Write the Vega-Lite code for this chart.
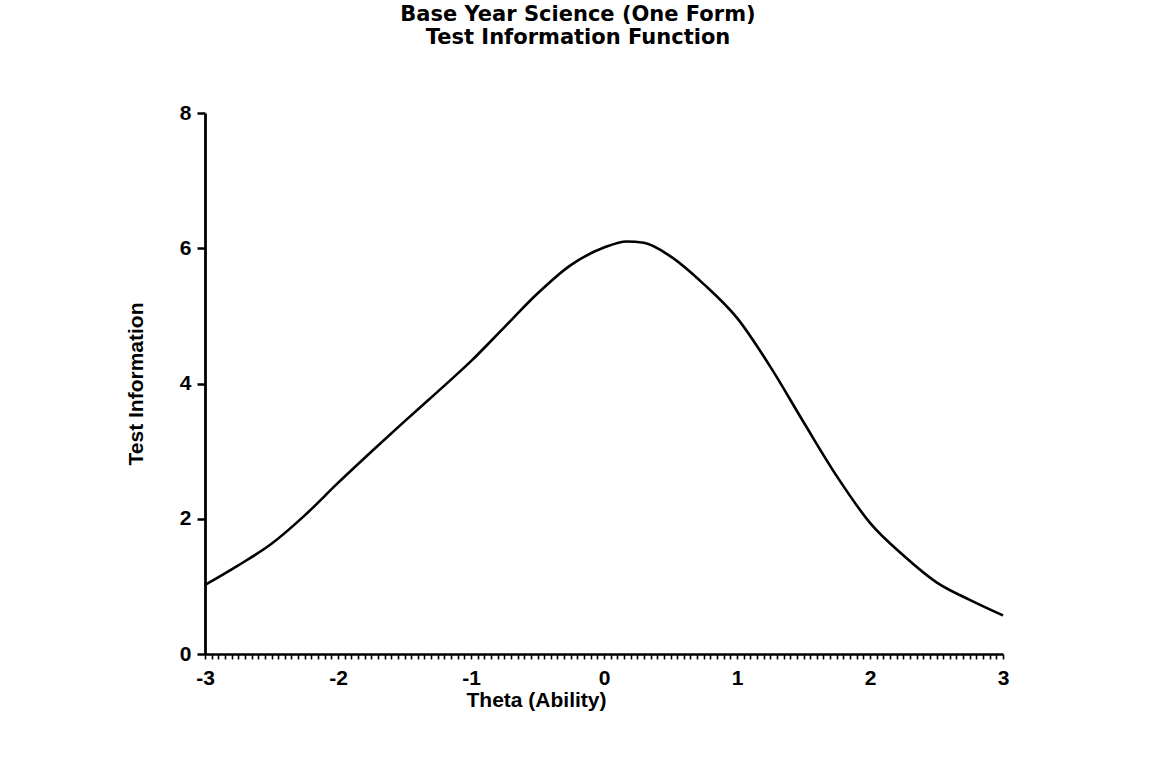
{
  "$schema": "https://vega.github.io/schema/vega-lite/v6.json",
  "autosize": "none",
  "width": 798,
  "height": 541,
  "padding": {"left": 205, "top": 113, "right": 150, "bottom": 108},
  "background": "white",
  "title": {
    "text": ["Base Year Science (One Form)", "Test Information Function"],
    "font": "DejaVu Sans",
    "fontWeight": "bold",
    "fontSize": 21,
    "lineHeight": 23,
    "color": "black",
    "anchor": "middle",
    "dx": -26,
    "offset": 54
  },
  "data": {
    "values": [
      {"theta": -3.0, "info": 1.02},
      {"theta": -2.75, "info": 1.31},
      {"theta": -2.5, "info": 1.63},
      {"theta": -2.25, "info": 2.05},
      {"theta": -2.0, "info": 2.53},
      {"theta": -1.75, "info": 2.99},
      {"theta": -1.5, "info": 3.44},
      {"theta": -1.25, "info": 3.88},
      {"theta": -1.0, "info": 4.33},
      {"theta": -0.75, "info": 4.83},
      {"theta": -0.5, "info": 5.33},
      {"theta": -0.25, "info": 5.75},
      {"theta": 0.0, "info": 6.01},
      {"theta": 0.17, "info": 6.1},
      {"theta": 0.3, "info": 6.08},
      {"theta": 0.5, "info": 5.88},
      {"theta": 0.75, "info": 5.47},
      {"theta": 1.0, "info": 4.97},
      {"theta": 1.25, "info": 4.25},
      {"theta": 1.5, "info": 3.43},
      {"theta": 1.75, "info": 2.63},
      {"theta": 2.0, "info": 1.94},
      {"theta": 2.25, "info": 1.46},
      {"theta": 2.5, "info": 1.06},
      {"theta": 2.75, "info": 0.8},
      {"theta": 3.0, "info": 0.57}
    ]
  },
  "mark": {"type": "line", "color": "black", "strokeWidth": 2.6, "interpolate": "monotone"},
  "encoding": {
    "x": {
      "field": "theta",
      "type": "quantitative",
      "scale": {"domain": [-3, 3], "nice": false, "zero": false},
      "axis": {
        "title": "Theta (Ability)",
        "values": [-3, -2.95, -2.9, -2.85, -2.8, -2.75, -2.7, -2.65, -2.6, -2.55, -2.5, -2.45, -2.4, -2.35, -2.3, -2.25, -2.2, -2.15, -2.1, -2.05, -2, -1.95, -1.9, -1.85, -1.8, -1.75, -1.7, -1.65, -1.6, -1.55, -1.5, -1.45, -1.4, -1.35, -1.3, -1.25, -1.2, -1.15, -1.1, -1.05, -1, -0.95, -0.9, -0.85, -0.8, -0.75, -0.7, -0.65, -0.6, -0.55, -0.5, -0.45, -0.4, -0.35, -0.3, -0.25, -0.2, -0.15, -0.1, -0.05, 0, 0.05, 0.1, 0.15, 0.2, 0.25, 0.3, 0.35, 0.4, 0.45, 0.5, 0.55, 0.6, 0.65, 0.7, 0.75, 0.8, 0.85, 0.9, 0.95, 1, 1.05, 1.1, 1.15, 1.2, 1.25, 1.3, 1.35, 1.4, 1.45, 1.5, 1.55, 1.6, 1.65, 1.7, 1.75, 1.8, 1.85, 1.9, 1.95, 2, 2.05, 2.1, 2.15, 2.2, 2.25, 2.3, 2.35, 2.4, 2.45, 2.5, 2.55, 2.6, 2.65, 2.7, 2.75, 2.8, 2.85, 2.9, 2.95, 3],
        "labelExpr": "abs(datum.value - round(datum.value)) < 0.001 ? '' + round(datum.value) : ''",
        "labelOverlap": false,
        "labelFlush": false,
        "grid": false,
        "tickSize": 5,
        "tickWidth": 1.6,
        "tickColor": "black",
        "domainColor": "black",
        "domainWidth": 2.5,
        "labelFont": "Liberation Sans",
        "labelFontWeight": "bold",
        "labelFontSize": 21,
        "labelColor": "black",
        "labelPadding": 8,
        "titleFont": "Liberation Sans",
        "titleFontWeight": "bold",
        "titleFontSize": 21,
        "titleColor": "black",
        "titleX": 331,
        "titleY": 35,
        "titleAlign": "center",
        "titleBaseline": "top"
      }
    },
    "y": {
      "field": "info",
      "type": "quantitative",
      "scale": {"domain": [0, 8], "nice": false},
      "axis": {
        "title": "Test Information",
        "values": [0, 2, 4, 6, 8],
        "grid": false,
        "tickSize": 8,
        "tickWidth": 2.5,
        "tickColor": "black",
        "domainColor": "black",
        "domainWidth": 2.8,
        "labelFont": "Liberation Sans",
        "labelFontWeight": "bold",
        "labelFontSize": 21,
        "labelColor": "black",
        "labelPadding": 6,
        "titleFont": "Liberation Sans",
        "titleFontWeight": "bold",
        "titleFontSize": 21,
        "titleColor": "black",
        "titlePadding": 33
      }
    }
  },
  "config": {"view": {"stroke": null}}
}
